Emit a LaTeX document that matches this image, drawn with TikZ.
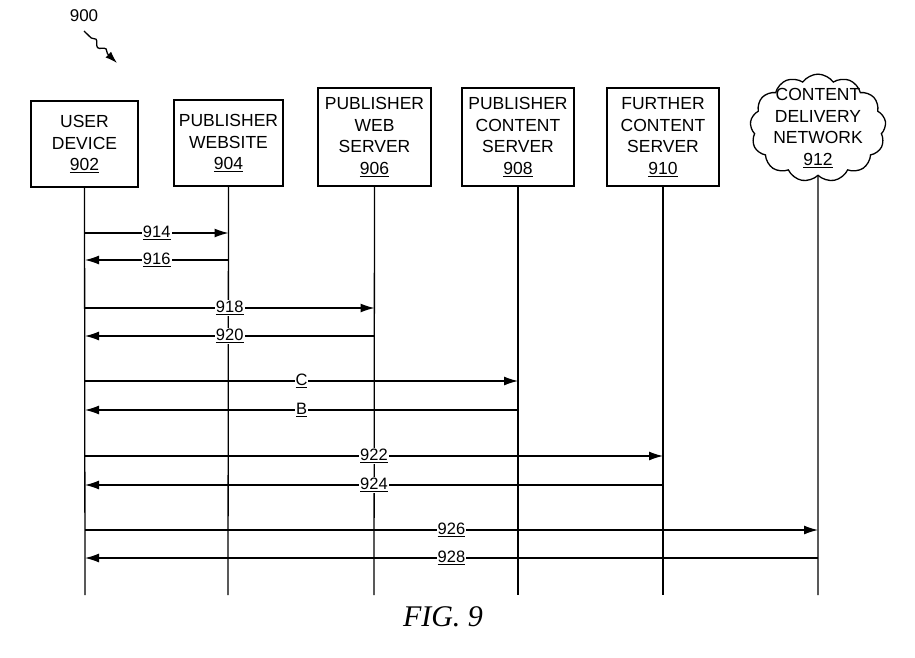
\documentclass[tikz,border=0pt]{standalone}
\usepackage{fontspec}
\setmainfont{Liberation Sans}
\usetikzlibrary{arrows.meta,shapes.symbols,decorations.pathmorphing}
\begin{document}
\begin{tikzpicture}[x=1pt,y=-1pt,
 box/.style={draw,line width=1.3pt,inner sep=0pt,align=center,font=\fontsize{17.5}{21.5}\selectfont},
 life/.style={line width=1.3pt},
 msg/.style={line width=1.3pt,-{Latex[length=14pt,width=9pt]}},
 lab/.style={fill=white,inner sep=1pt,font=\fontsize{16.5}{18}\selectfont}]
\useasboundingbox (0,0) rectangle (915,657);
\node[box,minimum width=107pt,minimum height=86pt] (b1) at (84.5,144) {USER\\DEVICE\\\underline{902}};
\node[box,minimum width=109pt,minimum height=86pt] (b2) at (228.5,143) {PUBLISHER\\WEBSITE\\\underline{904}};
\node[box,minimum width=113pt,minimum height=98pt] (b3) at (374.5,137) {PUBLISHER\\WEB\\SERVER\\\underline{906}};
\node[box,minimum width=112pt,minimum height=98pt] (b4) at (518,137) {PUBLISHER\\CONTENT\\SERVER\\\underline{908}};
\node[box,minimum width=112pt,minimum height=98pt] (b5) at (663,137) {FURTHER\\CONTENT\\SERVER\\\underline{910}};
\node[box,cloud,cloud puffs=13,cloud puff arc=110,aspect=1.35,minimum width=134pt,minimum height=98pt,inner sep=-6pt] (b6) at (818,128) {CONTENT\\DELIVERY\\NETWORK\\\underline{912}};
\foreach \i/\x in {1/85,2/228,3/374,4/518,5/663,6/818}{
 \coordinate (e\i) at (\x,595);
 \draw[life] (b\i.south) -- (e\i);}
\newcommand{\msgR}[3]{\coordinate (p1) at (85,#1);\path (b#3.south) coordinate (q);
 \draw[msg] (p1) -- (q|-p1) node[midway,lab]{\underline{#2}};}
\newcommand{\msgL}[3]{\coordinate (p1) at (85,#1);\path (b#3.south) coordinate (q);
 \draw[msg] (q|-p1) -- (p1) node[midway,lab]{\underline{#2}};}
\msgR{233}{914}{2}\msgL{260}{916}{2}
\msgR{308}{918}{3}\msgL{336}{920}{3}
\msgR{381}{C}{4}\msgL{410}{B}{4}
\msgR{456}{922}{5}\msgL{485}{924}{5}
\msgR{530}{926}{6}\msgL{558}{928}{6}
\node[font=\fontsize{17}{19}\selectfont] (n900) at (84,16) {900};
\coordinate (a0) at (84,31);
\coordinate (a1) at (117,63);
\draw[line width=1.3pt,-{Latex[length=12pt,width=8pt]},decorate,decoration={snake,amplitude=2.5pt,segment length=14pt,pre length=10pt,post length=12pt}] (a0) -- (a1);
\node[font=\fontsize{30}{34}\selectfont\itshape\fontspec{Liberation Serif}] (fig) at (443,617) {FIG. 9};
\end{tikzpicture}
\end{document}
